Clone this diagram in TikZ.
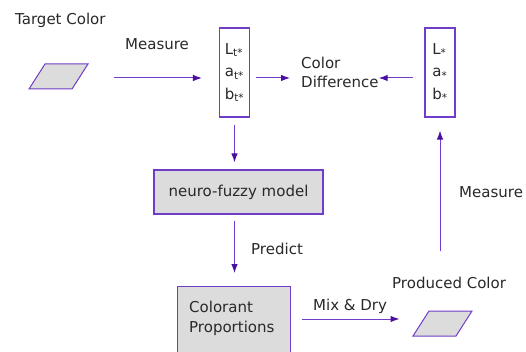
\documentclass[tikz,border=0pt]{standalone}
\usepackage{fontspec}
\setmainfont{DejaVu Sans}
\usetikzlibrary{arrows.meta}
\usetikzlibrary{positioning}
\definecolor{vio}{RGB}{112,60,200}
\definecolor{viodark}{RGB}{75,15,160}
\definecolor{boxgray}{RGB}{220,220,220}
\definecolor{txtgray}{RGB}{40,40,40}
\tikzset{
vbox/.style={draw=vio,
  line width=1.2pt,
    inner sep=0pt,
    text=txtgray},
gbox/.style={vbox,
  fill=boxgray,},
}
\tikzset{pgram/.style={draw=vio,line width=1pt,fill=boxgray,minimum width=43pt,minimum height=25pt,inner sep=0pt,xslant=0.64,transform shape}}
\tikzset{lbl/.style={inner sep=0pt,anchor=base west,text=txtgray}}
\tikzset{arr/.style={draw=vio,line width=1pt,-{Latex[length=9pt,width=6.5pt,color=viodark]}}}

\begin{document}
\begin{tikzpicture}[x=1pt, y=-1pt, font=\fontsize{15pt}{19.5pt}\selectfont]
    \useasboundingbox (0,0) rectangle (526,352);

    \node[lbl] (tgtl) at (15,25) {Target Color};
    \node[pgram] (tgt) at (58.5,76.5) {};
    \node[lbl] (meas1) at (125,50) {Measure};
    \node[vbox, minimum width=30pt, minimum height=89pt, align=left, font=\fontsize{15pt}{22.5pt}\selectfont] (lt) at (234.5,72.5) {L\textsubscript{t*}\\a\textsubscript{t*}\\b\textsubscript{t*}};
    \node[lbl, align=left] (diff) at (301,88) {Color\\Difference};
    \node[vbox, minimum width=30pt, minimum height=89pt, align=left, font=\fontsize{15pt}{22.5pt}\selectfont] (ls) at (440,72.5) {L\textsubscript{*}\\a\textsubscript{*}\\b\textsubscript{*}};

    \node[gbox, minimum width=169pt, minimum height=44pt] (nf) at (238.5,192) {neuro-fuzzy model};
    \node[lbl] (pred) at (251,254) {Predict};
    \node[gbox, anchor=north west, minimum width=113pt, minimum height=80pt] (cp) at (177,286) {};
    \node[lbl, align=left] (cpt) at (189,332) {Colorant\\Proportions};

    \node[lbl] (mix) at (313,310) {Mix \& Dry};
    \node[lbl] (pcl) at (392,288) {Produced Color};
    \node[pgram] (pc) at (442.5,323.5) {};
    \node[lbl] (meas2) at (459,198) {Measure};

    \coordinate (row) at (0,78);
    \coordinate (mixrow) at (0,319);

  \draw [arr, shorten <=33pt, shorten >=17pt] (tgt.east |- row) -- (lt.west |- row);
  \draw [arr, shorten <=6pt, shorten >=11pt] (lt.east |- row) -- (diff.west |- row);
  \draw [arr, shorten <=11pt] (ls.west |- row) -- (diff.east |- row);
  \draw [arr, shorten <=7pt, shorten >=7pt] (lt.south) -- (lt.south |- nf.north);
  \draw [arr, shorten <=6pt, shorten >=13pt] (lt.south |- nf.south) -- (lt.south |- cp.north);
  \draw [arr, shorten <=11pt, shorten >=21pt] (cp.east |- mixrow) -- (pc.west |- mixrow);
  \draw [arr, shorten <=25pt, shorten >=13pt] (ls.south |- pcl.north) -- (ls.south);
\end{tikzpicture}
\end{document}
